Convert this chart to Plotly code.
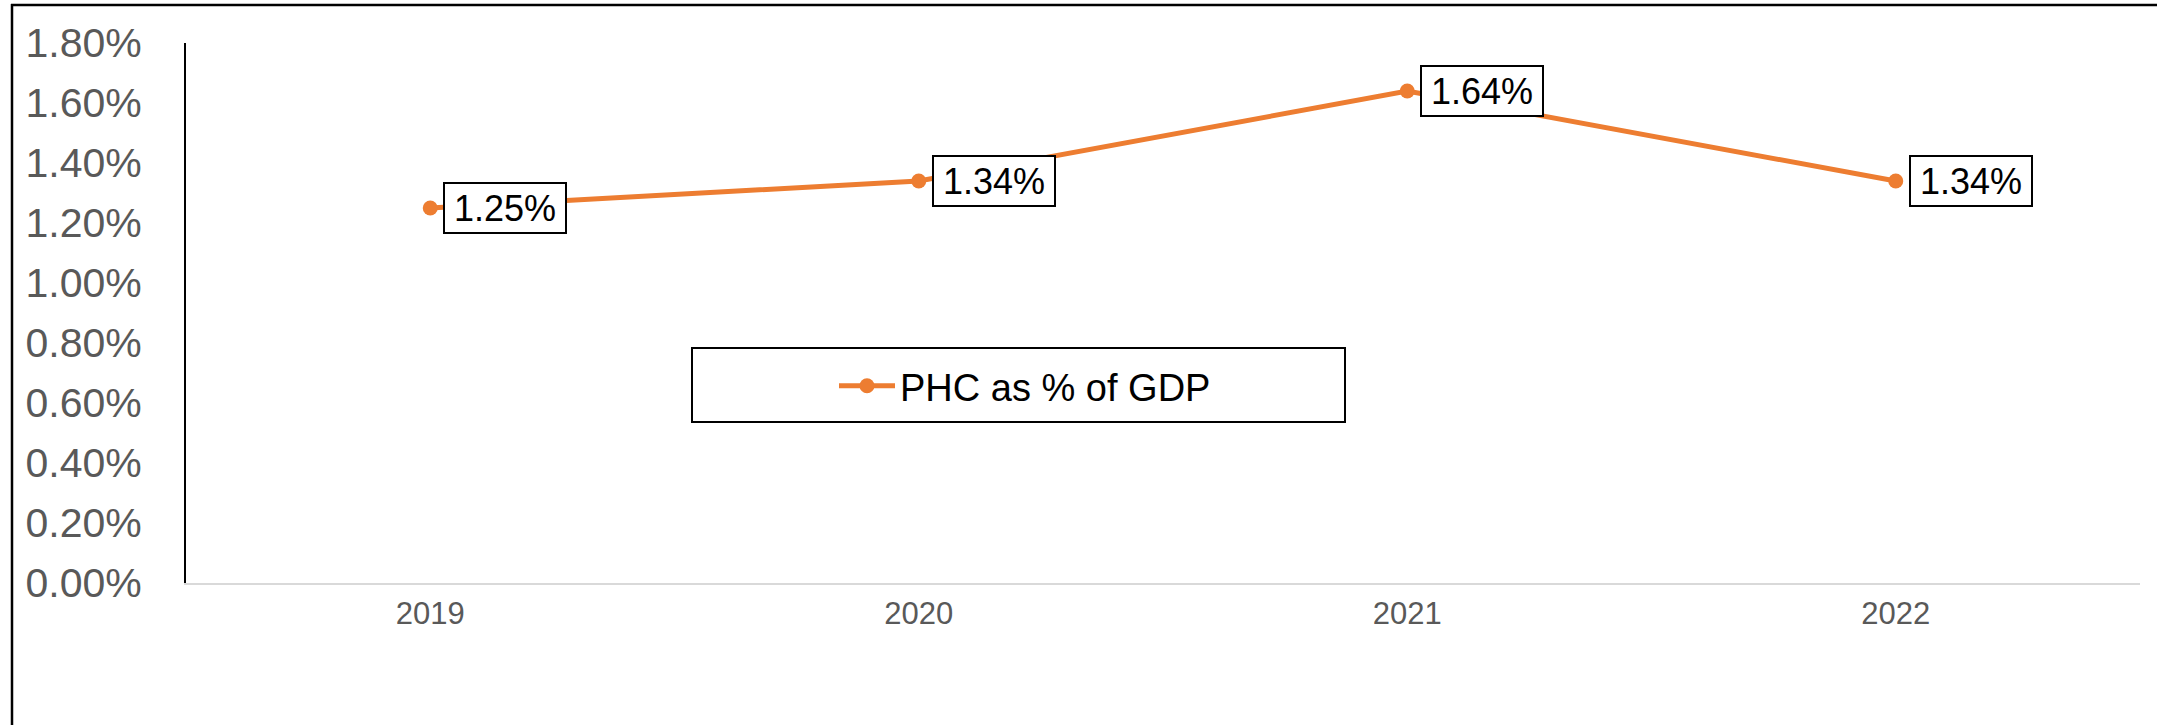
import plotly.graph_objects as go

years = ["2019", "2020", "2021", "2022"]
phc_pct_gdp = [1.25, 1.34, 1.64, 1.34]
label_texts = ["1.25%", "1.34%", "1.64%", "1.34%"]
series_name = "PHC as % of GDP"

W, H = 2157, 725
L, R, T, B = 186, 17, 43, 142
pw, ph = W - L - R, H - T - B

def px_x(p):
    return (p - L) / pw

def px_y(p):
    return (H - B - p) / ph

orange = "#ED7D31"
font_family = "Liberation Sans, Arial, sans-serif"

fig = go.Figure()
fig.add_trace(go.Scatter(
    x=years, y=phc_pct_gdp, mode="lines+markers", name=series_name,
    line=dict(color=orange, width=5),
    marker=dict(color=orange, size=15),
    showlegend=True,
))

for i, (yv, t) in enumerate(zip(phc_pct_gdp, label_texts)):
    fig.add_annotation(
        x=i, y=yv, xref="x", yref="y", text=t, showarrow=False,
        xanchor="left", yanchor="middle", xshift=13,
        font=dict(family=font_family, size=36, color="black"),
        bgcolor="white", bordercolor="black", borderwidth=2, borderpad=2,
        width=116, height=44, align="center",
    )

shapes = [
    # outer frame (left and top edges visible)
    dict(type="line", xref="paper", yref="paper",
         x0=px_x(12), x1=px_x(12), y0=px_y(4), y1=px_y(740),
         line=dict(color="black", width=2.5)),
    dict(type="line", xref="paper", yref="paper",
         x0=px_x(11), x1=px_x(2170), y0=px_y(5), y1=px_y(5),
         line=dict(color="black", width=2.5)),
    # legend box
    dict(type="rect", xref="paper", yref="paper",
         x0=px_x(692), x1=px_x(1345), y0=px_y(422), y1=px_y(348),
         line=dict(color="black", width=2), fillcolor="white", layer="below"),
]

fig.update_layout(
    width=W, height=H,
    margin=dict(l=L, r=R, t=T, b=B, pad=0),
    paper_bgcolor="white", plot_bgcolor="white",
    font=dict(family=font_family, color="#595959"),
    shapes=shapes,
    showlegend=True,
    legend=dict(
        x=px_x(834), y=px_y(386), xanchor="left", yanchor="middle",
        bgcolor="rgba(0,0,0,0)", borderwidth=0, itemwidth=56,
        font=dict(family=font_family, size=38, color="black"),
    ),
    xaxis=dict(
        type="category", range=[-0.5, 3.5], showgrid=False, zeroline=False,
        showline=True, linecolor="#d9d9d9", linewidth=2,
        ticks="", tickfont=dict(size=31, color="#595959"),
        ticklabelstandoff=2,
    ),
    yaxis=dict(
        range=[0, 1.8], dtick=0.2, tickformat=".2f", ticksuffix="%",
        showgrid=False, zeroline=False,
        showline=True, linecolor="black", linewidth=2,
        ticks="", tickfont=dict(size=41, color="#595959"),
        ticklabelstandoff=34,
    ),
)

fig.write_html("out.html", config={"displayModeBar": False},
               post_script="document.body.style.margin='0';")
